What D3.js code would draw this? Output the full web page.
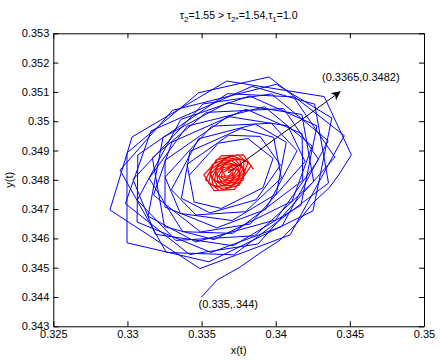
<!DOCTYPE html>
<html>
<head>
<meta charset="utf-8">
<script src="https://cdn.jsdelivr.net/npm/d3@7"></script>
<style>
  body { margin: 0; background: #fff; }
  svg { font-family: "Liberation Sans", Arial, Helvetica, sans-serif; }
</style>
</head>
<body>
<svg id="chart" width="442" height="361"></svg>
<script>
// axis ticks
const xTicks = [0.325, 0.33, 0.335, 0.34, 0.345, 0.35];
const yTicks = [0.343, 0.344, 0.345, 0.346, 0.347, 0.348, 0.349, 0.35, 0.351, 0.352, 0.353];

// trajectory leaving the initial point (x(t), y(t))
const startCurve = [
  [0.33500, 0.34400], [0.33604, 0.34458], [0.33759, 0.34502], [0.33894, 0.34550],
  [0.34029, 0.34594], [0.34143, 0.34652], [0.34251, 0.34721], [0.34366, 0.34776],
  [0.34433, 0.34823]
];

// blue transient loops
const blueLoops = [
  [0.34510, 0.34885], [0.34327, 0.35084], [0.33670, 0.35137], [0.33031, 0.34946],
  [0.32882, 0.34697], [0.33489, 0.34497], [0.34097, 0.34612], [0.34462, 0.34951],
  [0.33955, 0.35151], [0.33480, 0.35097], [0.32997, 0.34892], [0.32997, 0.34585],
  [0.33549, 0.34520], [0.34251, 0.34694], [0.34378, 0.35011], [0.34005, 0.35126],
  [0.33304, 0.35037], [0.32950, 0.34833], [0.33262, 0.34552], [0.33717, 0.34544],
  [0.34356, 0.34789], [0.34263, 0.35058], [0.33841, 0.35119], [0.33159, 0.34967],
  [0.32986, 0.34719], [0.33419, 0.34545], [0.33881, 0.34581], [0.34399, 0.34877],
  [0.34120, 0.35083], [0.33673, 0.35094], [0.33070, 0.34885], [0.33065, 0.34656],
  [0.33564, 0.34552], [0.34041, 0.34641], [0.34354, 0.34933], [0.33971, 0.35093],
  [0.33510, 0.35059], [0.33038, 0.34801], [0.33188, 0.34614], [0.33714, 0.34575],
  [0.34170, 0.34713], [0.34278, 0.34984], [0.33824, 0.35086], [0.33360, 0.35006],
  [0.33066, 0.34731], [0.33326, 0.34593], [0.33859, 0.34609], [0.34256, 0.34794],
  [0.34176, 0.35023], [0.33675, 0.35063], [0.33240, 0.34945], [0.33139, 0.34676],
  [0.33461, 0.34588], [0.33999, 0.34663], [0.34289, 0.34869], [0.34053, 0.35043],
  [0.33532, 0.35030], [0.33168, 0.34875], [0.33250, 0.34640], [0.33584, 0.34596],
  [0.34110, 0.34727], [0.34246, 0.34915], [0.33925, 0.35049], [0.33402, 0.34983],
  [0.33146, 0.34805], [0.33373, 0.34623], [0.33710, 0.34617], [0.34182, 0.34798],
  [0.34178, 0.34957], [0.33801, 0.35041], [0.33300, 0.34929], [0.33176, 0.34748],
  [0.33493, 0.34622], [0.33828, 0.34649], [0.34198, 0.34862], [0.34082, 0.34984],
  [0.33678, 0.35016], [0.33254, 0.34867], [0.33253, 0.34707], [0.33603, 0.34636],
  [0.33932, 0.34699], [0.34144, 0.34899], [0.33970, 0.34993], [0.33568, 0.34983],
  [0.33254, 0.34809], [0.33357, 0.34685], [0.33706, 0.34661], [0.34004, 0.34752],
  [0.34071, 0.34928], [0.33863, 0.34990], [0.33480, 0.34940], [0.33296, 0.34766],
  [0.33462, 0.34680], [0.33795, 0.34691], [0.34038, 0.34806], [0.33986, 0.34945],
  [0.33767, 0.34975], [0.33422, 0.34897], [0.33364, 0.34737], [0.33556, 0.34687],
  [0.33869, 0.34732], [0.34032, 0.34850], [0.33895, 0.34948], [0.33682, 0.34952],
  [0.33402, 0.34853], [0.33450, 0.34724], [0.33633, 0.34702], [0.33914, 0.34773],
  [0.33982, 0.34873], [0.33812, 0.34941], [0.33613, 0.34925], [0.33416, 0.34815]
];

// red loops converging on the equilibrium
const redLoops = [
  [0.338502, 0.348356], [0.337819, 0.348853], [0.336328, 0.348815], [0.335155, 0.348169],
  [0.335836, 0.347628], [0.337217, 0.347674], [0.338350, 0.348485], [0.337439, 0.348860],
  [0.335975, 0.348671], [0.335266, 0.348003], [0.336200, 0.347632], [0.337556, 0.347824],
  [0.338130, 0.348595], [0.337086, 0.348824], [0.335713, 0.348514], [0.335481, 0.347879],
  [0.336520, 0.347667], [0.337805, 0.347991], [0.337859, 0.348668], [0.336747, 0.348754],
  [0.335583, 0.348345], [0.335777, 0.347810], [0.336828, 0.347736], [0.337943, 0.348167],
  [0.337554, 0.348694], [0.336444, 0.348665], [0.335578, 0.348185], [0.336085, 0.347786],
  [0.337100, 0.347822], [0.337955, 0.348316], [0.337259, 0.348688], [0.336197, 0.348549],
  [0.335689, 0.348066], [0.336364, 0.347801], [0.337334, 0.347940], [0.337816, 0.348398],
  [0.336996, 0.348650], [0.336031, 0.348430], [0.335873, 0.347985], [0.336600, 0.347839],
  [0.337488, 0.348065], [0.337636, 0.348461], [0.336757, 0.348587], [0.335969, 0.348308],
  [0.336105, 0.347947], [0.336812, 0.347900], [0.337551, 0.348188], [0.337432, 0.348495],
  [0.336560, 0.348515], [0.336006, 0.348201], [0.336341, 0.347950], [0.336978, 0.347978],
  [0.337492, 0.348282], [0.337198, 0.348481], [0.336443, 0.348414], [0.336165, 0.348138],
  [0.336552, 0.347994], [0.337075, 0.348075], [0.337316, 0.348317], [0.336997, 0.348437],
  [0.336418, 0.348327], [0.336357, 0.348116], [0.336699, 0.348055], [0.337083, 0.348159],
  [0.337129, 0.348324], [0.336855, 0.348375], [0.336484, 0.348258], [0.336549, 0.348133],
  [0.336790, 0.348125], [0.337007, 0.348218], [0.336955, 0.348301], [0.336775, 0.348306]
];

// annotations
const equilibrium = [0.33678, 0.34823];
const arrowTip = [0.34433, 0.35100];
const eqLabelPos = [0.34312, 0.35137];
const eqLabel = "(0.3365,0.3482)";
const startLabelPos = [0.33480, 0.34362];
const startLabel = "(0.335,.344)";

const svg = d3.select("#chart");
const plotL = 53.3, plotR = 424, plotT = 33.3, plotB = 326.3;

const x = d3.scaleLinear().domain([0.325, 0.35]).range([plotL, plotR]);
const y = d3.scaleLinear().domain([0.343, 0.353]).range([plotB, plotT]);

const fmt = d => String(+d.toFixed(3));

// title
const title = svg.append("text")
  .attr("x", (plotL + plotR) / 2)
  .attr("y", 19)
  .attr("text-anchor", "middle")
  .attr("font-size", 10.5)
  .attr("fill", "#000");
title.append("tspan").text("\u03c4");
title.append("tspan").attr("font-size", 8).attr("dy", 3).text("2");
title.append("tspan").attr("dy", -3).text("=1.55 > \u03c4");
title.append("tspan").attr("font-size", 8).attr("dy", 3).text("2*");
title.append("tspan").attr("dy", -3).text("=1.54,\u03c4");
title.append("tspan").attr("font-size", 8).attr("dy", 3).text("1");
title.append("tspan").attr("dy", -3).text("=1.0");

// trajectory
const line = d3.line().x(d => x(d[0])).y(d => y(d[1]));

svg.append("path")
  .attr("d", line(startCurve.concat(blueLoops)))
  .attr("fill", "none")
  .attr("stroke", "#0000ff")
  .attr("stroke-width", 1)
  .attr("stroke-linejoin", "miter");

svg.append("path")
  .attr("d", line(redLoops))
  .attr("fill", "none")
  .attr("stroke", "#ff0000")
  .attr("stroke-width", 1.2);

// arrow to the equilibrium label
svg.append("defs").append("marker")
  .attr("id", "head")
  .attr("viewBox", "0 0 10 10")
  .attr("refX", 9).attr("refY", 5)
  .attr("markerWidth", 9).attr("markerHeight", 9)
  .attr("markerUnits", "userSpaceOnUse")
  .attr("orient", "auto")
  .append("path")
  .attr("d", "M0,0L10,5L0,10L2.5,5Z")
  .attr("fill", "#000");

svg.append("line")
  .attr("x1", x(equilibrium[0])).attr("y1", y(equilibrium[1]))
  .attr("x2", x(arrowTip[0])).attr("y2", y(arrowTip[1]))
  .attr("stroke", "#000")
  .attr("stroke-width", 1)
  .attr("marker-end", "url(#head)");

svg.append("text")
  .attr("x", x(eqLabelPos[0])).attr("y", y(eqLabelPos[1]))
  .attr("font-size", 11)
  .text(eqLabel);

svg.append("text")
  .attr("x", x(startLabelPos[0])).attr("y", y(startLabelPos[1]))
  .attr("font-size", 11)
  .text(startLabel);

// axes (MATLAB box with inward ticks)
const axisStyle = g => {
  g.selectAll("path.domain").attr("stroke", "#000");
  g.selectAll(".tick line").attr("stroke", "#000");
  g.selectAll("text").attr("font-size", 11).attr("fill", "#000")
    .attr("font-family", "Liberation Sans, Arial, sans-serif");
};

svg.append("g")
  .attr("transform", `translate(0,${plotB})`)
  .call(d3.axisBottom(x).tickValues(xTicks).tickFormat(fmt).tickSizeInner(-5).tickSizeOuter(0).tickPadding(4))
  .call(axisStyle);

svg.append("g")
  .attr("transform", `translate(0,${plotT})`)
  .call(d3.axisTop(x).tickValues(xTicks).tickFormat("").tickSizeInner(-5).tickSizeOuter(0))
  .call(axisStyle);

svg.append("g")
  .attr("transform", `translate(${plotL},0)`)
  .call(d3.axisLeft(y).tickValues(yTicks).tickFormat(fmt).tickSizeInner(-5).tickSizeOuter(0).tickPadding(4))
  .call(axisStyle);

svg.append("g")
  .attr("transform", `translate(${plotR},0)`)
  .call(d3.axisRight(y).tickValues(yTicks).tickFormat("").tickSizeInner(-5).tickSizeOuter(0))
  .call(axisStyle);

// axis titles
svg.append("text")
  .attr("x", (plotL + plotR) / 2)
  .attr("y", 354)
  .attr("text-anchor", "middle")
  .attr("font-size", 11)
  .text("x(t)");

svg.append("text")
  .attr("transform", `translate(13,${(plotT + plotB) / 2}) rotate(-90)`)
  .attr("text-anchor", "middle")
  .attr("font-size", 11)
  .text("y(t)");
</script>
</body>
</html>
